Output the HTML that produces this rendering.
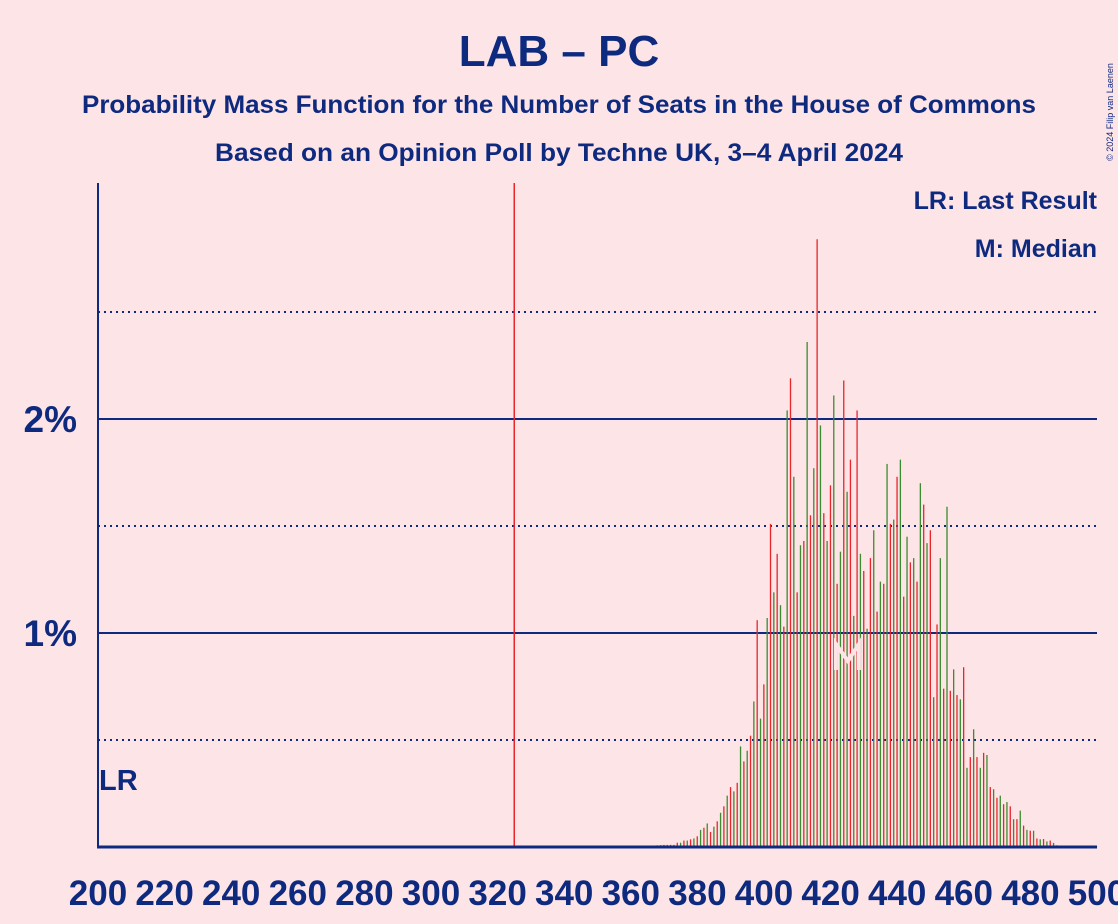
<!DOCTYPE html>
<html><head><meta charset="utf-8"><style>
body{margin:0;background:#fde4e7;}
svg{display:block;font-family:"Liberation Sans",sans-serif;font-weight:bold;}
</style></head><body>
<svg id="chart" width="1118" height="924">
<rect width="1118" height="924" fill="#fde4e7"/>
<text x="559" y="66" text-anchor="middle" font-size="44" fill="#0e2a7f">LAB – PC</text>
<text x="559" y="113" text-anchor="middle" font-size="25" textLength="954" lengthAdjust="spacingAndGlyphs" fill="#0e2a7f">Probability Mass Function for the Number of Seats in the House of Commons</text>
<text x="559" y="161" text-anchor="middle" font-size="25" textLength="688" lengthAdjust="spacingAndGlyphs" fill="#0e2a7f">Based on an Opinion Poll by Techne UK, 3–4 April 2024</text>
<text x="1097" y="209" text-anchor="end" font-size="25" fill="#0e2a7f">LR: Last Result</text>
<text x="1097" y="257" text-anchor="end" font-size="25" fill="#0e2a7f">M: Median</text>
<text x="1113" y="112" font-size="9" font-weight="normal" fill="#0e2a7f" transform="rotate(-90 1113 112)" text-anchor="middle">© 2024 Filip van Laenen</text>
<g id="grid"></g><g id="bars"></g><g id="axes"></g>
</svg>
<script>
const seats = [];
for (let s = 360; s <= 500; s++) seats.push(s);
const probs = [0.003,0.003,0.004,0.004,0.005,0.005,0.006,0.007,0.008,0.009,0.01,0.01,
0.01,0.01,0.02,0.02,0.03,0.03,0.036,0.04,0.05,0.08,0.09,0.11,0.07,0.095,0.12,
0.16,0.19,0.24,0.28,0.26,0.30,0.47,0.40,0.45,0.52,0.68,1.06,0.60,0.76,1.07,1.51,1.19,1.37,1.13,1.03,2.04,2.19,1.73,1.19,1.41,
1.43,2.36,1.55,1.77,2.84,1.97,1.56,1.43,1.69,2.11,1.23,1.38,2.18,1.66,1.81,1.08,2.04,1.37,1.29,1.02,1.35,1.48,1.10,1.24,1.23,1.79,1.51,1.53,1.73,1.81,1.17,1.45,1.33,1.35,1.24,1.70,
1.60,1.42,1.48,0.70,1.04,1.35,0.74,1.59,0.73,0.83,0.71,0.69,0.84,0.37,0.42,0.55,0.42,0.37,0.44,0.43,0.28,0.27,0.23,0.24,0.20,0.21,0.19,0.13,0.13,0.17,
0.10,0.08,0.076,0.076,0.04,0.036,0.037,0.026,0.03,0.019,0.008,0.006,
0.005,0.004,0.003,0.003,0.002,0.002,0.002,0.001,0.001,0.001,0.001];
const xTicks = [200,220,240,260,280,300,320,340,360,380,400,420,440,460,480,500];
const yTicks = [1,2];
const yMinor = [0.5,1.5,2.5];
const majority = 325;
const median = 424;

const NS = "http://www.w3.org/2000/svg";
const X = s => 98 + (s - 200) * 999 / 300;
const Y = p => 847 - p * 214;
function mk(tag, attrs, parent){const e=document.createElementNS(NS,tag);for(const k in attrs)e.setAttribute(k,attrs[k]);parent.appendChild(e);return e;}
const grid=document.getElementById('grid'), bars=document.getElementById('bars'), axes=document.getElementById('axes');

yMinor.forEach(v=>{
  const l=mk('line',{x1:98,x2:1097,y1:Y(v),y2:Y(v),stroke:'#0e2a7f','stroke-width':2,'stroke-dasharray':'2,4'},grid);
  
  
});
yTicks.forEach(v=>{
  const l=mk('line',{x1:98,x2:1097,y1:Y(v),y2:Y(v),stroke:'#0e2a7f','stroke-width':2},grid);
  
  
  const t=mk('text',{x:77,y:Y(v)+13,'text-anchor':'end','font-size':37,fill:'#0e2a7f'},axes);
  t.textContent=v+'%';
  
  
});
const ml=mk('line',{x1:X(majority),x2:X(majority),y1:183,y2:847,stroke:'#e8262a','stroke-width':1.5},grid);



seats.forEach((s,i)=>{
  const p=probs[i]; if(p===undefined) return;
  const r=mk('rect',{x:X(s)-0.8,y:Y(p),width:1.3,height:Math.max(0,847-Y(p)),fill:(s%2===0)?'#e8262a':'#3b8c2e'},bars);
  
  
});
const mx=X(median);
const mm=mk('polyline',{points:`${mx-8},670 ${mx-8},644 ${mx+4},661 ${mx+15},644 ${mx+15},670`,fill:'none',stroke:'#fde4e7','stroke-width':4},bars);



const ya=mk('line',{x1:98,x2:98,y1:183,y2:848,stroke:'#0e2a7f','stroke-width':2},axes);


const xa=mk('line',{x1:97,x2:1097,y1:847,y2:847,stroke:'#0e2a7f','stroke-width':3},axes);


xTicks.forEach(v=>{
  const t=mk('text',{x:X(v),y:905,'text-anchor':'middle','font-size':35,fill:'#0e2a7f'},axes);
  t.textContent=v;
  
  
});
const lr=mk('text',{x:99,y:790,'font-size':29,fill:'#0e2a7f'},axes);
lr.textContent='LR';


</script>
</body></html>
